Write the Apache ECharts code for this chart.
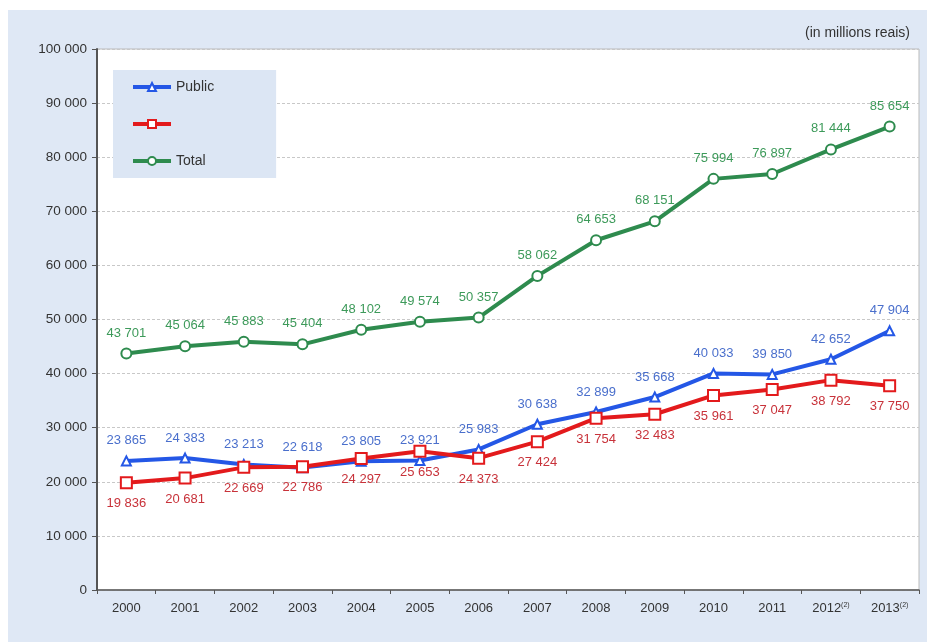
<!DOCTYPE html>
<html><head><meta charset="utf-8">
<script src="https://cdn.jsdelivr.net/npm/echarts@6/dist/echarts.min.js"></script>
<style>html,body{margin:0;padding:0;background:#fff}#c{width:927px;height:642px}</style>
</head><body><div id="c"></div>
<script>
const years = ['2000','2001','2002','2003','2004','2005','2006','2007','2008','2009','2010','2011','2012','2013'];
const yearNotes = ['','','','','','','','','','','','','(2)','(2)'];
const publicVals = [23865, 24383, 23213, 22618, 23805, 23921, 25983, 30638, 32899, 35668, 40033, 39850, 42652, 47904];
const privateVals = [19836, 20681, 22669, 22786, 24297, 25653, 24373, 27424, 31754, 32483, 35961, 37047, 38792, 37750];
const totalVals = [43701, 45064, 45883, 45404, 48102, 49574, 50357, 58062, 64653, 68151, 75994, 76897, 81444, 85654];
const seriesNames = ['Public', ' ', 'Total'];
const unitText = '(in millions reais)';

const fmt = v => String(v).replace(/\B(?=(\d{3})+(?!\d))/g, ' ');
const FONT = '"Liberation Sans", Arial, sans-serif';

const chart = echarts.init(document.getElementById('c'));
function lineSeries(name, data, color, labelColor, symbol, pos, sym) {
  return {
    name, type: 'line', data,
    symbol, symbolSize: sym, showAllSymbol: true,
    lineStyle: { width: 4, color },
    itemStyle: { color: '#fff', borderColor: color, borderWidth: 2 },
    label: { show: true, position: pos, distance: 8, color: labelColor, fontSize: 13, fontFamily: FONT,
      formatter: p => fmt(p.value) },
    emphasis: { disabled: true },
    z: 3
  };
}
chart.setOption({
  backgroundColor: '#ffffff',
  animation: false,
  graphic: [{ type: 'rect', shape: { x: 8, y: 10, width: 927, height: 642 }, style: { fill: '#dfe8f5' }, z: -10, silent: true }],
  title: { text: unitText, right: 12, top: 21, textStyle: { fontSize: 14, fontWeight: 'normal', color: '#333', fontFamily: FONT } },
  grid: { left: 97, right: 8, top: 49, bottom: 52, show: true, backgroundColor: '#ffffff', borderColor: '#bbbbbb', borderWidth: 1 },
  legend: {
    orient: 'vertical', left: 113, top: 70, data: seriesNames,
    backgroundColor: '#dce6f4', padding: [10, 62, 10, 18], itemGap: 23,
    itemWidth: 38, itemHeight: 10,
    lineStyle: { width: 4 },
    textStyle: { fontSize: 14, color: '#333', fontFamily: FONT },
    selectedMode: false
  },
  xAxis: {
    type: 'category', data: years, boundaryGap: true,
    axisLine: { lineStyle: { color: '#555', width: 1.5 } },
    axisTick: { show: true, length: 4, lineStyle: { color: '#555' } },
    axisLabel: {
      interval: 0, margin: 12, color: '#333', fontSize: 13, fontFamily: FONT,
      formatter: (v, i) => yearNotes[i] ? v + '{s|' + yearNotes[i] + '}' : v,
      rich: { s: { fontSize: 7, verticalAlign: 'top', padding: [0, 0, 6, 0], color: '#333' } }
    }
  },
  yAxis: {
    type: 'value', min: 0, max: 100000, interval: 10000,
    axisLine: { show: true, lineStyle: { color: '#555', width: 2 } },
    axisTick: { show: true, length: 5, lineStyle: { color: '#555' } },
    splitLine: { lineStyle: { color: '#c8c8c8', type: [3, 2] } },
    axisLabel: { margin: 10, color: '#333', fontSize: 13.5, fontFamily: FONT, formatter: v => fmt(v) }
  },
  series: [
    lineSeries(seriesNames[0], publicVals, '#2457e6', '#4a6fcc', 'triangle', 'top', 9),
    lineSeries(seriesNames[1], privateVals, '#e31a1c', '#c8323a', 'rect', 'bottom', 11),
    lineSeries(seriesNames[2], totalVals, '#2e8b4e', '#3d9a5a', 'circle', 'top', 10)
  ]
});
</script></body></html>
